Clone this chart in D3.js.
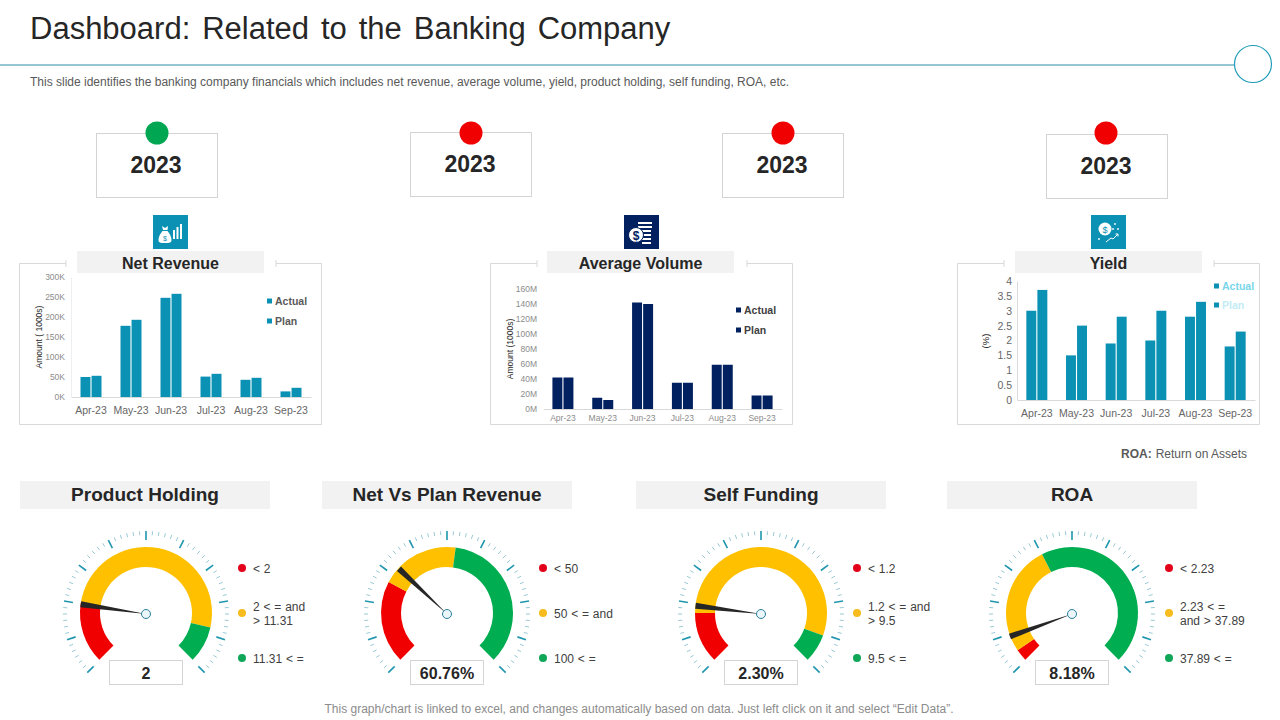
<!DOCTYPE html>
<html>
<head>
<meta charset="utf-8">
<script src="https://d3js.org/d3.v7.min.js"></script>
<style>
  html, body { margin: 0; padding: 0; background: #fff; }
  svg { display: block; font-family: "Liberation Sans", Arial, sans-serif; }
</style>
</head>
<body>
<svg id="slide" width="1280" height="720"></svg>
<script>
// bar chart data
var months = ["Apr-23", "May-23", "Jun-23", "Jul-23", "Aug-23", "Sep-23"];
var seriesNames = ["Actual", "Plan"];

var revenueActual = [50, 178, 248, 51, 43, 14];
var revenuePlan = [53, 193, 258, 58, 48, 23];
var revenueTicks = [0, 50, 100, 150, 200, 250, 300];

var volumeActual = [42, 15, 142, 35, 59, 18];
var volumePlan = [42, 12, 140, 35, 59, 18];
var volumeTicks = [0, 20, 40, 60, 80, 100, 120, 140, 160];

var yieldActual = [3, 1.5, 1.9, 2, 2.8, 1.8];
var yieldPlan = [3.7, 2.5, 2.8, 3, 3.3, 2.3];
var yieldTicks = [0, 0.5, 1, 1.5, 2, 2.5, 3, 3.5, 4];

// traffic lights above the charts
var lightYears = ["2023", "2023", "2023", "2023"];
var lightColors = ["#00a651", "#f00000", "#f00000", "#f00000"];

// gauge data, positions are percent of the dial sweep
var gaugeTitles = ["Product Holding", "Net Vs Plan Revenue", "Self Funding", "ROA"];
var gaugeReadouts = ["2", "60.76%", "2.30%", "8.18%"];
var gaugeRedEnd = [19.8, 27, 16.7, 3.9];
var gaugeAmberEnd = [88, 52.8, 90.7, 40];
var gaugeNeedle = [19.8, 32.7, 19.3, 9.3];
var gaugeLegends = [
  [["< 2"], ["2 < = and", "> 11.31"], ["11.31 < ="]],
  [["< 50"], ["50 < = and"], ["100 < ="]],
  [["< 1.2"], ["1.2 < = and", "> 9.5"], ["9.5 < ="]],
  [["< 2.23"], ["2.23 < =", "and > 37.89"], ["37.89 < ="]]
];

var svg = d3.select("#slide");

// header
svg.append("text").attr("x", 30).attr("y", 39)
  .attr("font-size", 31).attr("fill", "#262626").attr("word-spacing", 3.3)
  .text("Dashboard: Related to the Banking Company");
svg.append("line").attr("x1", 0).attr("x2", 1234).attr("y1", 65).attr("y2", 65)
  .attr("stroke", "#2a8ca8").attr("stroke-width", 1);
svg.append("circle").attr("cx", 1253).attr("cy", 64).attr("r", 18.5)
  .attr("fill", "#fff").attr("stroke", "#1e9bb8").attr("stroke-width", 1.2);
svg.append("text").attr("x", 30).attr("y", 86)
  .attr("font-size", 12).attr("fill", "#595959")
  .text("This slide identifies the banking company financials which includes net revenue, average volume, yield, product holding, self funding, ROA, etc.");

// year boxes
var lightBoxes = [
  { x: 96, y: 133, dot: 157 },
  { x: 410, y: 132, dot: 471 },
  { x: 722, y: 133, dot: 783 },
  { x: 1046, y: 134, dot: 1106 }
];
lightBoxes.forEach(function (box, i) {
  svg.append("rect").attr("x", box.x + 0.5).attr("y", box.y + 0.5)
    .attr("width", 121).attr("height", 197 - 133)
    .attr("fill", "#fff").attr("stroke", "#d4d4d4");
  svg.append("circle").attr("cx", box.dot).attr("cy", 133).attr("r", 11.5)
    .attr("fill", lightColors[i]);
  svg.append("text").attr("x", box.x + 60).attr("y", box.y + 40)
    .attr("text-anchor", "middle").attr("font-size", 23).attr("font-weight", "bold")
    .attr("fill", "#262626").text(lightYears[i]);
});

// one framed bar chart
function drawBarChart(opts) {
  var frame = opts.frame;
  var g = svg.append("g");

  // frame with a gap behind the title
  var framePath = "M" + (frame + 47) + ",263.5H" + (frame + 0.5) + "V424.5H" + (frame + 302.5) + "V263.5H" + (frame + 257);
  g.append("path").attr("d", framePath).attr("fill", "none").attr("stroke", "#d9d9d9");
  g.append("path").attr("d", "M" + (frame + 47) + ",260V267M" + (frame + 257) + ",260V267")
    .attr("fill", "none").attr("stroke", "#d9d9d9");

  g.append("rect").attr("x", frame + opts.titleX).attr("y", 251).attr("width", 187).attr("height", 22)
    .attr("fill", "#f2f2f2");
  g.append("text").attr("x", frame + opts.titleX + 93.5).attr("y", 268.5)
    .attr("text-anchor", "middle").attr("font-size", 16).attr("font-weight", "bold")
    .attr("fill", "#262626").text(opts.title);

  var x = d3.scaleBand().domain(months).range(opts.xRange);
  var inner = d3.scaleBand().domain(seriesNames).range([0, 21]).paddingInner(0.1);
  var y = d3.scaleLinear().domain(opts.yDomain).range(opts.yRange);

  var xAxis = g.append("g").attr("transform", "translate(0," + opts.yRange[0] + ")")
    .call(d3.axisBottom(x).tickSize(0).tickPadding(opts.xPad));
  xAxis.select(".domain").attr("stroke", "#d9d9d9");
  xAxis.selectAll("text").attr("font-size", opts.xFont).attr("fill", opts.xColor).attr("font-family", "inherit");

  var yAxis = g.append("g").attr("transform", "translate(" + opts.xRange[0] + ",0)")
    .call(d3.axisLeft(y).tickValues(opts.yTicks).tickSize(0).tickPadding(opts.yPad).tickFormat(opts.yFormat));
  yAxis.select(".domain").attr("stroke", opts.yLine);
  yAxis.selectAll("text").attr("font-size", opts.yFont).attr("fill", opts.yColor).attr("font-family", "inherit");

  g.append("text")
    .attr("transform", "translate(" + opts.yTitleX + "," + opts.yTitleY + ") rotate(-90)")
    .attr("text-anchor", "middle").attr("font-size", opts.yTitleFont).attr("fill", "#262626")
    .text(opts.yTitle);

  [opts.actual, opts.plan].forEach(function (values, s) {
    g.append("g").selectAll("rect").data(values).join("rect")
      .attr("x", function (d, i) { return x(months[i]) + (x.bandwidth() - 21) / 2 + inner(seriesNames[s]); })
      .attr("y", function (d) { return y(d); })
      .attr("width", inner.bandwidth())
      .attr("height", function (d) { return y(0) - y(d); })
      .attr("fill", opts.color);
  });

  seriesNames.forEach(function (name, s) {
    var ly = opts.legendY[s];
    g.append("rect").attr("x", opts.legendX).attr("y", ly - 2.5).attr("width", 5).attr("height", 5)
      .attr("fill", opts.color);
    g.append("text").attr("x", opts.legendX + 8).attr("y", ly + 4)
      .attr("font-size", 10.5).attr("font-weight", "bold")
      .attr("fill", opts.legendColors[s]).text(name);
  });
}

drawBarChart({
  frame: 19, titleX: 58, title: "Net Revenue", color: "#0b91b4",
  actual: revenueActual, plan: revenuePlan,
  xRange: [71, 311], yRange: [397, 277], yDomain: [0, 300], yTicks: revenueTicks,
  yFormat: function (d) { return d + "K"; },
  xFont: 10.5, xColor: "#666", xPad: 10, yFont: 8.5, yColor: "#8c8c8c", yPad: 6, yLine: "#efefef",
  yTitle: "Amount ( 1000s)", yTitleX: 42, yTitleY: 337, yTitleFont: 8.5,
  legendX: 267, legendY: [301, 321], legendColors: ["#595959", "#595959"]
});
drawBarChart({
  frame: 490, titleX: 57, title: "Average Volume", color: "#002060",
  actual: volumeActual, plan: volumePlan,
  xRange: [543, 782], yRange: [409, 289], yDomain: [0, 160], yTicks: volumeTicks,
  yFormat: function (d) { return d + "M"; },
  xFont: 8.5, xColor: "#8c8c8c", xPad: 6, yFont: 8.5, yColor: "#8c8c8c", yPad: 6, yLine: "#fff",
  yTitle: "Amount (1000s)", yTitleX: 513, yTitleY: 349, yTitleFont: 8.5,
  legendX: 736, legendY: [310, 330], legendColors: ["#404040", "#404040"]
});
drawBarChart({
  frame: 957, titleX: 58, title: "Yield", color: "#0b91b4",
  actual: yieldActual, plan: yieldPlan,
  xRange: [1017, 1255], yRange: [400, 281], yDomain: [0, 4], yTicks: yieldTicks,
  yFormat: function (d) { return String(d); },
  xFont: 10.5, xColor: "#666", xPad: 10, yFont: 10.5, yColor: "#666", yPad: 5, yLine: "#d9d9d9",
  yTitle: "(%)", yTitleX: 989, yTitleY: 341, yTitleFont: 9.5,
  legendX: 1214, legendY: [286, 305], legendColors: ["#79d6ea", "#c2ecf5"]
});

// chart icons
function iconBox(x, color) {
  var g = svg.append("g").attr("transform", "translate(" + x + ",215)");
  g.append("rect").attr("width", 35).attr("height", 34).attr("fill", color);
  return g;
}

var bagIcon = iconBox(153, "#0b91b4");
bagIcon.append("path").attr("fill", "#fff")
  .attr("d", "M9,11L12,13L15,11L14.5,15H10Z M9.5,16H14.5C17,19 18.5,22 18.5,25C18.5,27.5 17,28 12,28C7,28 5.5,27.5 5.5,25C5.5,22 7,19 9.5,16Z");
bagIcon.append("text").attr("x", 12).attr("y", 26).attr("text-anchor", "middle")
  .attr("font-size", 7).attr("fill", "#0b91b4").text("$");
bagIcon.selectAll("rect.bar").data([[20, 15], [23.5, 12], [27, 9]]).join("rect")
  .attr("class", "bar").attr("x", function (d) { return d[0]; }).attr("y", function (d) { return d[1]; })
  .attr("width", 2).attr("height", function (d) { return 24 - d[1]; }).attr("fill", "#fff");

var coinIcon = iconBox(624, "#002060");
coinIcon.selectAll("rect.stack").data([8, 12, 16, 20, 24, 28]).join("rect")
  .attr("class", "stack").attr("x", function (d, i) { return i < 2 ? 14 : 18; }).attr("y", function (d) { return d - 1; })
  .attr("width", function (d, i) { return i < 2 ? 14 : 9; }).attr("height", 2).attr("fill", "#fff");
coinIcon.append("circle").attr("cx", 12).attr("cy", 20).attr("r", 7.5)
  .attr("fill", "#fff").attr("stroke", "#002060");
coinIcon.append("text").attr("x", 12).attr("y", 24.5).attr("text-anchor", "middle")
  .attr("font-size", 12).attr("font-weight", "bold").attr("fill", "#002060").text("$");

var growthIcon = iconBox(1091, "#0b91b4");
growthIcon.append("circle").attr("cx", 14).attr("cy", 14).attr("r", 6.5).attr("fill", "#fff");
growthIcon.append("text").attr("x", 14).attr("y", 17.5).attr("text-anchor", "middle")
  .attr("font-size", 9).attr("fill", "#0b91b4").text("$");
growthIcon.append("path").attr("fill", "none").attr("stroke", "#fff")
  .attr("d", "M15,27L20,23L22,24L27,19M24.5,19H27V21.5");
growthIcon.selectAll("circle.spark").data([[24, 9], [27, 14], [8, 24], [22, 14]]).join("circle")
  .attr("class", "spark").attr("cx", function (d) { return d[0]; }).attr("cy", function (d) { return d[1]; })
  .attr("r", 0.9).attr("fill", "#fff");

// ROA note
var roaNote = svg.append("text").attr("x", 1121).attr("y", 458).attr("font-size", 12).attr("fill", "#595959");
roaNote.append("tspan").attr("font-weight", "bold").text("ROA:");
roaNote.append("tspan").attr("dx", 4).text("Return on Assets");

// gauges
var gaugeCenters = [146, 447, 761, 1072];
var gaugeHeaders = [20, 322, 636, 947];
var gaugeLegendDots = [242, 543, 857, 1169];
var legendRows = [568, 613, 658];
var legendColors = ["#e3001b", "#f7bd1e", "#0fa657"];

// dial runs 270 degrees, gap at the bottom
var angle = d3.scaleLinear().domain([0, 100]).range([-135, 135]);
var toRad = function (deg) { return deg * Math.PI / 180; };
var ringArc = d3.arc().innerRadius(46).outerRadius(66);

gaugeTitles.forEach(function (title, i) {
  var cx = gaugeCenters[i];
  var head = svg.append("g");
  head.append("rect").attr("x", gaugeHeaders[i]).attr("y", 481).attr("width", 250).attr("height", 28)
    .attr("fill", "#f2f2f2");
  head.append("text").attr("x", gaugeHeaders[i] + 125).attr("y", 501)
    .attr("text-anchor", "middle").attr("font-size", 19).attr("font-weight", "bold")
    .attr("fill", "#262626").text(title);

  var dial = svg.append("g").attr("transform", "translate(" + cx + ",614)");

  // 10 big divisions with 5 small ticks in each
  d3.range(0, 61).forEach(function (t) {
    var major = t % 6 === 0;
    var a = toRad(angle(t * 100 / 60));
    var r1 = 83, r0 = major ? 74 : 79;
    dial.append("line")
      .attr("x1", r0 * Math.sin(a)).attr("y1", -r0 * Math.cos(a))
      .attr("x2", r1 * Math.sin(a)).attr("y2", -r1 * Math.cos(a))
      .attr("stroke", major ? "#1f96ae" : "#8fc3d0")
      .attr("stroke-width", major ? 1.6 : 0.9);
  });

  // ring sits a pixel above the hub in the picture
  var ring = dial.append("g").attr("transform", "translate(0,-1)");
  var stops = [0, gaugeRedEnd[i], gaugeAmberEnd[i], 100];
  ["#f00000", "#ffc000", "#00ad50"].forEach(function (color, s) {
    ring.append("path")
      .attr("d", ringArc({ startAngle: toRad(angle(stops[s])), endAngle: toRad(angle(stops[s + 1])) }))
      .attr("fill", color);
  });

  // needle: narrow at the hub, 6px wide at the rim
  var na = toRad(angle(gaugeNeedle[i]));
  var tipX = 66 * Math.sin(na), tipY = -66 * Math.cos(na);
  var sideX = 3 * Math.cos(na), sideY = 3 * Math.sin(na);
  var needlePoints = [
    [tipX + sideX, tipY + sideY],
    [tipX - sideX, tipY - sideY],
    [0, 0]
  ];
  dial.append("path").attr("d", d3.line()(needlePoints) + "Z").attr("fill", "#262626");
  dial.append("circle").attr("r", 4.5).attr("fill", "#eaf6fa").attr("stroke", "#2a7f9e").attr("stroke-width", 1);

  // readout
  svg.append("rect").attr("x", cx - 36.5).attr("y", 660.5).attr("width", 73).attr("height", 24)
    .attr("fill", "#fff").attr("stroke", "#d4d4d4");
  svg.append("text").attr("x", cx).attr("y", 679)
    .attr("text-anchor", "middle").attr("font-size", 16).attr("font-weight", "bold")
    .attr("fill", "#262626").text(gaugeReadouts[i]);

  // legend
  gaugeLegends[i].forEach(function (lines, row) {
    var rowY = legendRows[row];
    svg.append("circle").attr("cx", gaugeLegendDots[i]).attr("cy", rowY).attr("r", 4)
      .attr("fill", legendColors[row]);
    lines.forEach(function (line, k) {
      svg.append("text").attr("x", gaugeLegendDots[i] + 11)
        .attr("y", rowY + 4.5 + (lines.length === 2 ? (k === 0 ? -6.5 : 7) : 0))
        .attr("font-size", 12).attr("fill", "#404040").attr("word-spacing", 0.5).text(line);
    });
  });
});

// footer
svg.append("text").attr("x", 639).attr("y", 713).attr("text-anchor", "middle")
  .attr("font-size", 12).attr("fill", "#8c8c8c")
  .text("This graph/chart is linked to excel, and changes automatically based on data. Just left click on it and select \u201cEdit Data\u201d.");
</script>
</body>
</html>
